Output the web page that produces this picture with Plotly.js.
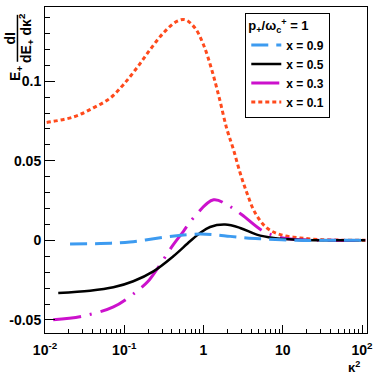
<!DOCTYPE html>
<html>
<head>
<meta charset="utf-8">
<script src="https://cdn.plot.ly/plotly-3.0.1.min.js"></script>
<style>
  html, body { margin: 0; padding: 0; background: #fff; }
  #chart { width: 374px; height: 375px; }
</style>
</head>
<body>
<div id="chart"></div>
<script>
// values (kappa^2 on a log axis)
const k01 = [0.0105, 0.0228, 0.0407, 0.0665, 0.0975, 0.144, 0.212, 0.312, 0.46, 0.586, 0.78, 1.0, 1.27, 1.58, 1.97, 2.39, 2.9, 3.53, 4.49, 6.3, 9.3, 16.6, 30, 60, 110];
const y01 = [0.0741, 0.0775, 0.0832, 0.0894, 0.0978, 0.1083, 0.1198, 0.1303, 0.1376, 0.1386, 0.1334, 0.1229, 0.1072, 0.0895, 0.0700, 0.0570, 0.0423, 0.0298, 0.0172, 0.0078, 0.0036, 0.0015, 0.0005, 0.0001, 0];

const k03 = [0.0127, 0.029, 0.073, 0.144, 0.2, 0.257, 0.416, 0.558, 0.745, 1.34, 2.07, 3.05, 5.7, 10, 20, 110];
const y03 = [-0.0498, -0.0477, -0.0418, -0.032, -0.0257, -0.0184, -0.0027, 0.0057, 0.0141, 0.0255, 0.0218, 0.0161, 0.0057, 0.0015, 0.0003, 0];

const k05 = [0.0147, 0.037, 0.0728, 0.13, 0.233, 0.416, 0.676, 0.905, 1.21, 1.87, 2.9, 4.7, 7.65, 15, 30, 110];
const y05 = [-0.0330, -0.0316, -0.0295, -0.0257, -0.0195, -0.0100, -0.0006, 0.0046, 0.0084, 0.0099, 0.0078, 0.0036, 0.0015, 0.0004, 0.0001, 0];

const k09 = [0.0207, 0.05, 0.118, 0.343, 0.56, 0.9, 1.34, 2.17, 3.5, 5.7, 15, 30, 110];
const y09 = [-0.0023, -0.0020, -0.0010, 0.0022, 0.0033, 0.0040, 0.0036, 0.0025, 0.0015, 0.0009, 0.0000, 0, 0];

const seriesNames = ['x = 0.1', 'x = 0.3', 'x = 0.5', 'x = 0.9'];
const xTickVals = ['0.01', '0.1', '100'];
const xTickText = ['10<sup>-2</sup>', '10<sup>-1</sup>', '10<sup>2</sup>'];
const yTickVals = [-0.05, 0, 0.05, 0.1];
const yTickText = ['-0.05', '0', '0.05', '0.1'];

const fam = 'Liberation Sans, Arial, sans-serif';
const bold = { family: fam, size: 14, color: '#000', weight: 'bold' };
const legendFont = { family: fam, size: 12, color: '#000', weight: 'bold' };

const alias = {};
xTickVals.forEach((v, i) => { alias[v] = xTickText[i]; });

const traces = [
  { x: k01, y: y01, name: seriesNames[0], mode: 'lines', line: { color: '#ff4a1c', width: 3, dash: '4px,3px', shape: 'spline' } },
  { x: k03, y: y03, name: seriesNames[1], mode: 'lines', line: { color: '#cc11cc', width: 3, dash: '28px,9px,2px,9px', shape: 'spline' } },
  { x: k05, y: y05, name: seriesNames[2], mode: 'lines', line: { color: '#000', width: 2.5, shape: 'spline' } },
  { x: k09, y: y09, name: seriesNames[3], mode: 'lines', line: { color: '#3d9bf0', width: 3, dash: '17px,8px', shape: 'spline' } }
];

// small helper for the hand-placed y title pieces
function label(x, y, text, extra) {
  return Object.assign({ xref: 'paper', yref: 'paper', x: x, y: y, text: text, showarrow: false,
    xanchor: 'center', yanchor: 'middle', font: bold }, extra || {});
}

const layout = {
  width: 374, height: 375,
  margin: { l: 45, r: 7, t: 7, b: 42 },
  paper_bgcolor: '#fff', plot_bgcolor: '#fff',
  font: bold,
  showlegend: true,
  legend: {
    x: 0.622, y: 0.983, xanchor: 'left', yanchor: 'top',
    bgcolor: '#fff', bordercolor: '#000', borderwidth: 1,
    traceorder: 'reversed', itemwidth: 30,
    font: legendFont,
    title: { text: 'p<sub>+</sub>/ω<sub>c</sub><sup>+</sup> = 1', font: { family: fam, size: 13, color: '#000', weight: 'bold' } }
  },
  xaxis: {
    type: 'log', range: [-2, 2.063],
    dtick: 1, labelalias: alias,
    ticks: 'inside', ticklen: 8, tickcolor: '#000', tickwidth: 1,
    minor: { ticks: 'inside', ticklen: 4, dtick: 'D1', tickcolor: '#000' },
    showline: true, linecolor: '#000', linewidth: 1, mirror: true,
    showgrid: false, zeroline: false,
    tickfont: bold, ticklabelstandoff: 4
  },
  yaxis: {
    range: [-0.0582, 0.1466],
    tickmode: 'array', tickvals: yTickVals, ticktext: yTickText,
    ticks: 'inside', ticklen: 10, tickcolor: '#000', tickwidth: 1,
    minor: { ticks: 'inside', ticklen: 5, dtick: 0.01, tick0: 0, tickcolor: '#000' },
    showline: true, linecolor: '#000', linewidth: 1, mirror: true,
    showgrid: false, zeroline: false,
    tickfont: bold
  },
  shapes: [
    // fraction bar of the y title
    { type: 'line', xref: 'paper', yref: 'paper', x0: -0.0855, x1: -0.0855, y0: 0.976, y1: 0.832, line: { color: '#000', width: 1.5 } }
  ],
  annotations: [
    label(-0.109, 0.903, 'dI', { textangle: -90 }),
    label(-0.057, 0.904, 'dE<sub>+</sub> dκ<sup>2</sup>', { textangle: -90 }),
    label(-0.092, 0.796, 'E<sub>+</sub>', { textangle: -90 }),
    label(0.96, -0.103, 'κ<sup>2</sup>', { font: { family: fam, size: 13, color: '#000' } })
  ]
};

Plotly.newPlot('chart', traces, layout, { displayModeBar: false, staticPlot: true });
</script>
</body>
</html>
